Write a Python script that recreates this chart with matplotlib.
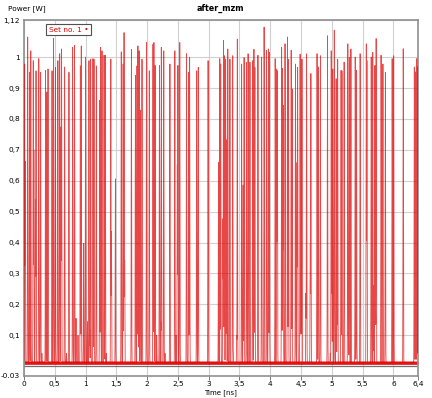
import numpy as np
import matplotlib
matplotlib.use("Agg")
import matplotlib.pyplot as plt

# ---- data (pulse centre times in ns, peak power in W) ----
pulse_times = [
    0.01, 0.02, 0.06, 0.09, 0.11, 0.15, 0.16, 0.185, 0.195, 0.24, 0.27, 0.29,
    0.35, 0.37, 0.39, 0.455, 0.48, 0.51, 0.55, 0.58, 0.60, 0.61, 0.66, 0.69,
    0.73, 0.79, 0.82, 0.845, 0.877, 0.915, 0.93, 0.97, 1.0, 1.03, 1.055,
    1.067, 1.083, 1.12, 1.137, 1.175, 1.23, 1.245, 1.267, 1.30, 1.32, 1.337,
    1.41, 1.42, 1.485, 1.58, 1.61, 1.625, 1.635, 1.745, 1.81, 1.835, 1.85,
    1.855, 1.87, 1.89, 1.917, 1.99, 2.035, 2.095, 2.11, 2.13, 2.155, 2.20,
    2.22, 2.23, 2.27, 2.29, 2.37, 2.45, 2.47, 2.49, 2.50, 2.53, 2.64, 2.675,
    2.69, 2.805, 2.83, 2.99, 3.16, 3.18, 3.195, 3.23, 3.24, 3.255, 3.275,
    3.29, 3.31, 3.345, 3.39, 3.40, 3.455, 3.465, 3.535, 3.56, 3.575, 3.615,
    3.64, 3.67, 3.715, 3.735, 3.74, 3.75, 3.80, 3.86, 3.90, 3.94, 3.97,
    3.985, 4.08, 4.105, 4.115, 4.185, 4.20, 4.21, 4.24, 4.28, 4.295, 4.34,
    4.355, 4.41, 4.435, 4.445, 4.485, 4.50, 4.515, 4.58, 4.59, 4.65, 4.66,
    4.76, 4.78, 4.785, 4.815, 4.93, 4.975, 4.99, 5.00, 5.015, 5.04, 5.07,
    5.085, 5.095, 5.15, 5.165, 5.20, 5.26, 5.27, 5.285, 5.31, 5.38, 5.40,
    5.405, 5.46, 5.56, 5.57, 5.64, 5.645, 5.665, 5.68, 5.70, 5.71, 5.72,
    5.80, 5.83, 5.87, 5.98, 6.005, 6.16, 6.34, 6.36, 6.38, 6.398,
]
pulse_peaks = [
    0.984, 0.663, 1.065, 0.957, 1.027, 0.995, 0.70, 0.54, 0.957, 0.995, 0.957, 0.042,
    0.963, 0.893, 0.968, 0.957, 1.06, 0.973, 0.995, 1.011, 0.774, 1.033, 0.968, 0.042,
    0.957, 1.038, 1.038, 0.155, 0.10, 0.973, 1.043, 0.40, 1.0, 0.145, 0.99,
    0.12, 0.995, 0.995, 0.995, 0.973, 0.866, 1.033, 1.022, 1.006, 1.006, 0.042,
    1.0, 0.435, 0.607, 1.017, 0.984, 1.081, 0.343, 1.027, 0.947, 0.973, 1.043,
    0.37, 1.027, 0.834, 0.995, 1.054, 0.957, 1.043, 1.054, 0.979, 0.10, 0.973,
    0.145, 1.038, 1.027, 0.042, 0.984, 1.027, 0.10, 0.656, 0.973, 1.054, 1.011, 0.952,
    1.006, 0.957, 0.973, 0.995, 0.66, 0.995, 0.979, 0.48, 1.054, 1.006, 0.995,
    0.737, 1.033, 0.995, 1.011, 0.042, 0.10, 1.06, 0.979, 0.586, 1.0, 0.984,
    1.011, 0.99, 0.99, 1.027, 0.042, 0.973, 1.006, 1.0, 1.097, 1.022, 1.033,
    1.017, 0.995, 0.963, 0.957, 1.033, 0.963, 0.85, 1.043, 1.065, 0.995, 1.022,
    0.898, 0.984, 0.66, 0.968, 1.011, 0.866, 0.995, 0.236, 1.017, 0.40, 0.947,
    1.011, 0.968, 0.042, 1.006, 1.076, 0.042, 1.027, 0.435, 0.963, 1.087, 0.936,
    0.187, 0.995, 0.963, 0.957, 0.984, 1.043, 0.117, 1.0, 1.033, 1.0, 0.957,
    0.117, 1.011, 1.043, 0.995, 1.0, 0.198, 1.017, 0.26, 0.973, 0.187, 1.06,
    1.006, 0.984, 0.957, 0.995, 1.006, 1.027, 0.968, 0.952, 0.995, 0.975,
]
noise_floor = [0.006, 0.017]   # band of the baseline noise (W)
baseline_level = 0.011

x_ticks = [0, 0.5, 1, 1.5, 2, 2.5, 3, 3.5, 4, 4.5, 5, 5.5, 6, 6.4]
x_tick_labels = ["0", "0,5", "1", "1,5", "2", "2,5", "3", "3,5", "4", "4,5",
                 "5", "5,5", "6", "6,4"]
y_ticks = [-0.03, 0.1, 0.2, 0.3, 0.4, 0.5, 0.6, 0.7, 0.8, 0.9, 1.0, 1.12]
y_tick_labels = ["-0.03", "0,1", "0,2", "0,3", "0,4", "0,5", "0,6", "0,7",
                 "0,8", "0,9", "1", "1,12"]

# ---- build the waveform from the pulse list ----
t = np.linspace(0, 6.4, 8001)
sigma = 0.0035
pt = np.array(pulse_times)[:, None]
pk = np.array(pulse_peaks)[:, None]
sig = np.max(pk * np.exp(-0.5 * ((t[None, :] - pt) / sigma) ** 2), axis=0)
sig = np.maximum(sig, baseline_level)

# ---- figure ----
fig = plt.figure(figsize=(4.32, 3.98), dpi=100)
ax = fig.add_axes([24 / 432, 1 - 375.5 / 398, (418 - 24) / 432, (375.5 - 20) / 398])

ax.set_xlim(0, 6.4)
ax.set_ylim(-0.03, 1.12)

red = "#e00000"
ax.fill_between(t, noise_floor[0], noise_floor[1], color=red, lw=0, alpha=0.9, zorder=2)
ax.plot(t, sig, color=red, lw=0.6, alpha=0.72, zorder=3)

ax.set_xticks(x_ticks)
ax.set_xticklabels(x_tick_labels)
ax.set_yticks(y_ticks)
ax.set_yticklabels(y_tick_labels)
ax.grid(True, color="#d0d0d0", lw=0.8, zorder=0)
ax.set_axisbelow(True)
ax.axhline(0, color="#707070", lw=0.9, zorder=1)

ax.tick_params(axis="x", labelsize=5.3, length=3, width=0.6, color="#606060",
               direction="out", pad=1)
ax.tick_params(axis="y", labelsize=5.3, length=0, pad=3)
for s in ax.spines.values():
    s.set_color("#909090")
    s.set_linewidth(1.2)

fig.text(220 / 432, 1 - 8 / 398, "after_mzm", ha="center", va="center",
         fontsize=5.8, fontweight="bold")
fig.text(8 / 432, 1 - 9 / 398, "Power [W]", ha="left", va="center", fontsize=5.3)
fig.text(221 / 432, 1 - 393 / 398, "Time [ns]", ha="center", va="center", fontsize=5.0)

ax.text(0.4, 1.088, "Set no. 1 \u2022", color=red, fontsize=5.3, ha="left", va="center",
        bbox=dict(boxstyle="square,pad=0.35", fc="white", ec="#505050", lw=0.8),
        zorder=5)

fig.savefig("out.png", dpi=100)
